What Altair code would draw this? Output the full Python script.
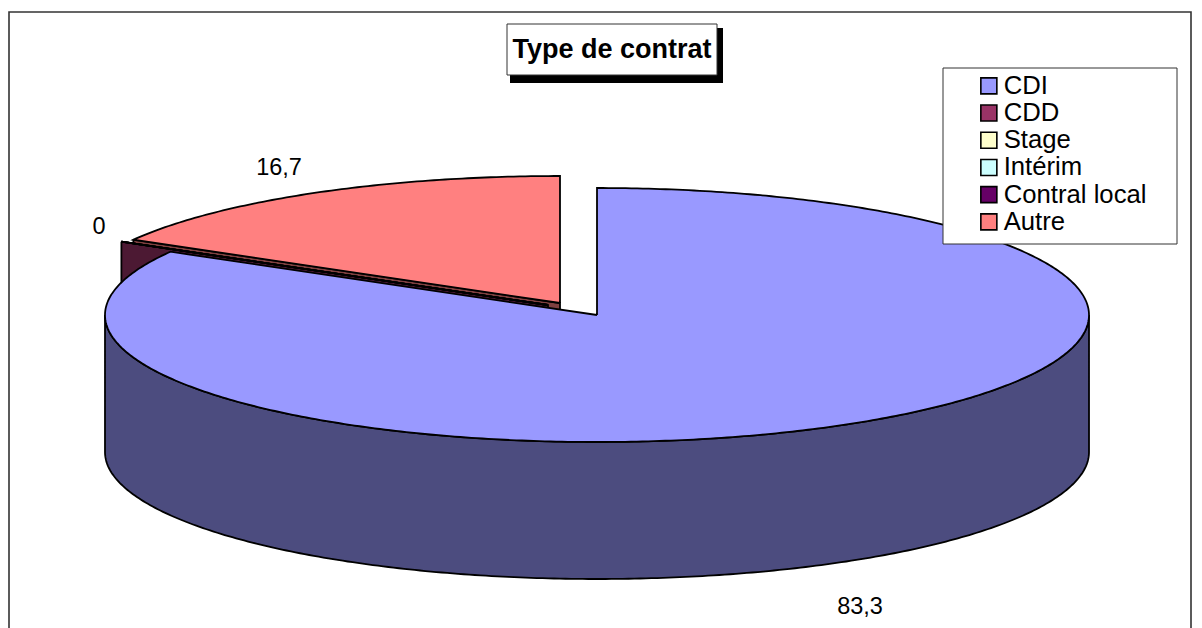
import numpy as np
import pandas as pd
import altair as alt

CATEGORIES = ["CDI", "CDD", "Stage", "Intérim", "Contral local", "Autre"]
VALUES = [83.3, 0.0, 0.0, 0.0, 0.0, 16.7]
COLORS = ["#9999FF", "#993366", "#FFFFCC", "#CCFFFF", "#660066", "#FF8080"]
LABELS = ["83,3", "0", "16,7"]

# layout of the pseudo-3D pie (pixels of the page)
W, H = 1186, 620
RX, RY, DEPTH = 492, 127, 137
CENTERS = {"CDI": (597, 315), "CDD": (548, 305), "Stage": (548, 305),
           "Intérim": (548, 305), "Contral local": (548, 305), "Autre": (560, 303)}
LABEL_POS = [(860, 607), (99, 227), (279, 168)]
XS = alt.Scale(domain=[8, 8 + W], range=[0, W], nice=False, zero=False)
YS = alt.Scale(domain=[8, 8 + H], range=[0, H], nice=False, zero=False)
FILL = alt.Scale(domain=CATEGORIES, range=COLORS)
LINE = 1.8
LEGEND = alt.Legend(title=None, orient="none", legendX=976 - 8, legendY=73 - 8,
                    symbolType="square", symbolSize=256, symbolStrokeColor="black",
                    symbolStrokeWidth=1.6, labelFont="Liberation Sans", labelFontSize=25.7,
                    labelColor="black", rowPadding=0.2, labelOffset=2, zindex=1,
                    symbolOpacity=1, padding=0, labelLimit=220)


def darken(hexcol):
    r, g, b = (int(hexcol[i:i + 2], 16) // 2 for i in (1, 3, 5))
    return f"#{r:02x}{g:02x}{b:02x}"


def rim(center, a0, a1, drop=0):
    n = max(2, int(abs(a1 - a0) * 1.5))
    t = np.radians(np.linspace(a0, a1, n))
    return np.column_stack([center[0] + RX * np.sin(t),
                            center[1] - RY * np.cos(t) + drop])


def frame_of(pts, cat="x"):
    pts = np.vstack([pts, pts[:1]])
    return pd.DataFrame({"x": pts[:, 0], "y": pts[:, 1], "i": range(len(pts)), "cat": cat})


def polygon(df, fill=None, width=LINE):
    base = alt.Chart(df)
    kw = dict(stroke="black", strokeWidth=width, strokeJoin="miter", clip=False)
    enc = dict(x=alt.X("x:Q", scale=XS, axis=None),
               y=alt.Y("y:Q", scale=YS, axis=None),
               order="i:Q")
    if fill is None:
        enc["fill"] = alt.Fill("cat:N", scale=FILL, legend=LEGEND)
        return base.mark_line(**kw).encode(**enc)
    return base.mark_line(fill=fill, **kw).encode(**enc)


def slice_angles():
    total = sum(VALUES)
    out, a = {}, 0.0
    for c, v in zip(CATEGORIES, VALUES):
        out[c] = (a, a + 360 * v / total)
        a += 360 * v / total
    return out


ang = slice_angles()
layers = []


def box(x0, y0, x1, y1, fill, stroke=None):
    df = pd.DataFrame({"x": [x0], "x2": [x1], "y": [y0], "y2": [y1]})
    kw = {"stroke": stroke, "strokeWidth": 1} if stroke else {"strokeWidth": 0}
    return alt.Chart(df).mark_rect(fill=fill, **kw).encode(
        x=alt.X("x:Q", scale=XS, axis=None), x2="x2:Q",
        y=alt.Y("y:Q", scale=YS, axis=None), y2="y2:Q")


# chart frame: open at the bottom, where the picture is cut
frame = pd.DataFrame({"x": [9, 9, 1191, 1191], "y": [628, 12, 12, 628], "i": range(4)})
layers.append(alt.Chart(frame).mark_line(stroke="#333333", strokeWidth=1.6).encode(
    x=alt.X("x:Q", scale=XS, axis=None), y=alt.Y("y:Q", scale=YS, axis=None), order="i:Q"))


def edge_wall(cat, angle):
    c = CENTERS[cat]
    tip = rim(c, angle, angle)[0]
    return frame_of(np.array([[tip[0], tip[1]], [c[0], c[1]],
                              [c[0], c[1] + DEPTH], [tip[0], tip[1] + DEPTH]]))


def top(cat):
    c = CENTERS[cat]
    a0, a1 = ang[cat]
    return frame_of(np.vstack([[c], rim(c, a0, a1)]), cat)


# back slices first, CDI last so that it overlaps them
layers.append(polygon(edge_wall("Autre", ang["Autre"][0]), fill=darken(COLORS[5])))
layers.append(polygon(edge_wall("CDD", ang["CDD"][0]), fill=darken(COLORS[1])))
for cat in ["Stage", "Intérim", "Contral local", "CDD"]:
    layers.append(polygon(top(cat)))
layers.append(polygon(top("Autre")))

c = CENTERS["CDI"]
front = np.vstack([rim(c, 90, 270), rim(c, 270, 90, DEPTH)])
layers.append(polygon(frame_of(front), fill=darken(COLORS[0])))
layers.append(polygon(top("CDI")))

# legend box under the native legend
layers.append(box(943, 68, 1177, 244, "white", "#333333"))

# value labels
lab = pd.DataFrame({"t": LABELS, "x": [p[0] for p in LABEL_POS], "y": [p[1] for p in LABEL_POS]})
layers.append(alt.Chart(lab).mark_text(font="Liberation Sans", fontSize=23.5, color="black").encode(
    x=alt.X("x:Q", scale=XS, axis=None), y=alt.Y("y:Q", scale=YS, axis=None), text="t:N"))

# title box with its drop shadow
layers.append(box(510, 28, 723, 83, "black"))
layers.append(box(507, 24, 717, 75, "white", "#333333"))
ttl = pd.DataFrame({"t": ["Type de contrat"], "x": [612], "y": [50]})
layers.append(alt.Chart(ttl).mark_text(font="Liberation Sans", fontWeight="bold", fontSize=27,
                                       color="black").encode(
    x=alt.X("x:Q", scale=XS, axis=None), y=alt.Y("y:Q", scale=YS, axis=None), text="t:N"))

chart = alt.layer(*layers).properties(
    width=W, height=H, padding=0, background="white",
    autosize=alt.AutoSizeParams(type="none"),
).configure_view(stroke=None)

chart.save("out.html", embed_options={"renderer": "svg", "actions": False})
